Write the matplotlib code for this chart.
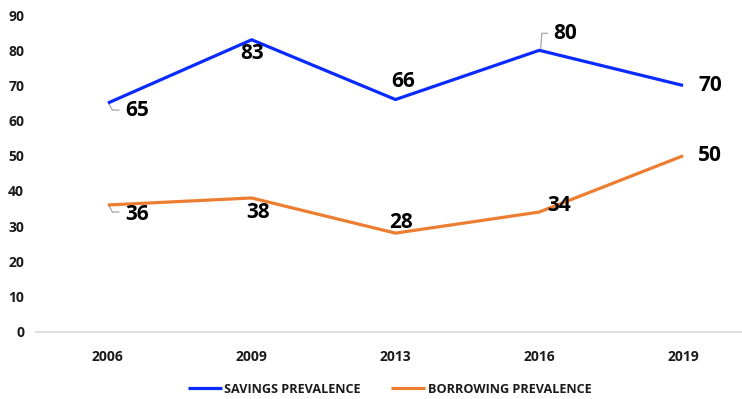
import matplotlib
matplotlib.use("Agg")
import matplotlib.pyplot as plt

years = ["2006", "2009", "2013", "2016", "2019"]
savings = [65, 83, 66, 80, 70]
borrowing = [36, 38, 28, 34, 50]
y_ticks = [0, 10, 20, 30, 40, 50, 60, 70, 80, 90]

plt.rcParams["font.family"] = ["Open Sans", "DejaVu Sans"]

fig = plt.figure(figsize=(7.42, 3.99), dpi=100)
ax = fig.add_axes([0.0485, 0.169, 0.969, 0.793])

x = list(range(len(years)))
blue = "#0A2BFF"
orange = "#ED7D31"
ax.plot(x, savings, color=blue, lw=2.3, solid_capstyle="butt", label="SAVINGS PREVALENCE")
ax.plot(x, borrowing, color=orange, lw=2.3, solid_capstyle="butt", label="BORROWING PREVALENCE")

ax.set_xlim(-0.5, 4.5)
ax.set_ylim(0, 90)
ax.set_xticks(x)
ax.set_xticklabels(years)
ax.set_yticks(y_ticks)
for s in ["top", "right", "left"]:
    ax.spines[s].set_visible(False)
ax.spines["bottom"].set_color("#D9D9D9")
ax.spines["bottom"].set_linewidth(1.2)
ax.tick_params(axis="both", length=0, labelsize=10, labelcolor="#1a1a1a")
ax.tick_params(axis="x", pad=13)
ax.tick_params(axis="y", pad=8.5)
for t in ax.get_xticklabels() + ax.get_yticklabels():
    t.set_fontweight("bold")

# data labels: (dx, dy) offsets in pixels (y up), alignment, leader-line vertices
px = 0.72
lead_down = [(1.5, -1.5), (4.5, -7), (11, -7)]
lead_up = [(1.5, 2), (2.5, 17), (8, 17)]
sav_off = [(17, -7, "left", lead_down), (0, -14, "center", None), (8, 18, "center", None),
           (14, 17, "left", lead_up), (15, 0, "left", None)]
bor_off = [(17, -9, "left", lead_down), (6, -15, "center", None), (6, 11, "center", None),
           (20, 7, "center", None), (15, 0, "left", None)]

fig.canvas.draw()
inv = ax.transData.inverted()


def label(series, offs):
    for xi, v, (dx, dy, ha, lead) in zip(x, series, offs):
        ax.annotate(str(v), xy=(xi, v), xytext=(dx * px, dy * px), textcoords="offset points",
                    ha=ha, va="center", fontsize=15, fontweight="bold", color="black")
        if lead:
            base = ax.transData.transform((xi, v))
            data = [inv.transform((base[0] + ox, base[1] + oy)) for ox, oy in lead]
            ax.plot([d[0] for d in data], [d[1] for d in data], color="#A6A6A6", lw=0.9)


label(savings, sav_off)
label(borrowing, bor_off)

leg = fig.legend(loc="lower center", bbox_to_anchor=(0.525, -0.02), ncol=2, frameon=False,
                 fontsize=9.1, handlelength=2.7, handletextpad=0.2, columnspacing=2.4)
for t in leg.get_texts():
    t.set_fontweight("bold")
    t.set_color("#1a1a1a")

fig.savefig("out.png", dpi=100)
